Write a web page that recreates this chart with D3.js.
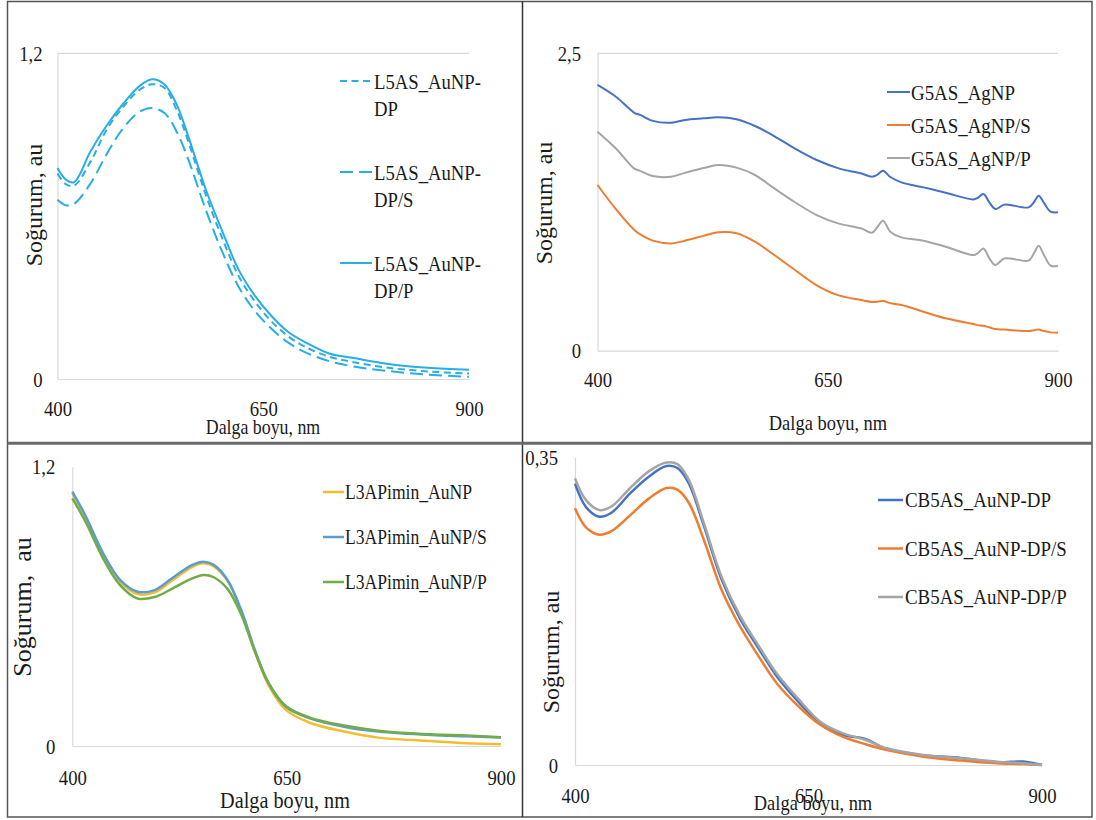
<!DOCTYPE html>
<html>
<head>
<meta charset="utf-8">
<script src="https://cdn.jsdelivr.net/npm/d3@7"></script>
</head>
<body style="margin:0;background:#fff">
<div id="main"></div>
<script>
// ---- panel 1 : L5AS_AuNP (0 - 1,2) ----
var l5Wave = [400, 410, 420, 440, 460, 480, 500, 515, 530, 545, 560, 580, 600, 620, 640, 660, 680, 700, 730, 760, 800, 850, 900];
var l5DP   = [0.757, 0.718, 0.712, 0.80, 0.92, 1.003, 1.066, 1.086, 1.072, 0.99, 0.865, 0.68, 0.52, 0.38, 0.285, 0.212, 0.158, 0.12, 0.082, 0.062, 0.042, 0.028, 0.02];
var l5DPS  = [0.66, 0.64, 0.645, 0.72, 0.83, 0.925, 0.985, 0.998, 0.98, 0.91, 0.80, 0.625, 0.47, 0.34, 0.25, 0.185, 0.135, 0.10, 0.066, 0.046, 0.03, 0.016, 0.008];
var l5DPP  = [0.777, 0.735, 0.725, 0.838, 0.935, 1.015, 1.08, 1.104, 1.085, 1.01, 0.884, 0.70, 0.546, 0.403, 0.306, 0.232, 0.174, 0.137, 0.094, 0.077, 0.056, 0.041, 0.034];
var l5Labels = [["L5AS_AuNP-", "DP"], ["L5AS_AuNP-", "DP/S"], ["L5AS_AuNP-", "DP/P"]];

// ---- panel 2 : G5AS_AgNP (0 - 2,5) ----
var g5Wave = [400, 420, 440, 447, 460, 480, 495, 515, 531, 551, 571, 590, 614, 638, 662, 686, 698, 704, 710, 718, 730, 754, 778, 808, 813, 819, 826, 832, 842, 868, 874, 879, 885, 892, 900];
var g5Ag   = [2.234, 2.135, 2.0, 1.98, 1.932, 1.917, 1.94, 1.953, 1.962, 1.945, 1.889, 1.813, 1.701, 1.603, 1.533, 1.491, 1.463, 1.48, 1.513, 1.46, 1.415, 1.373, 1.328, 1.272, 1.285, 1.317, 1.24, 1.191, 1.228, 1.205, 1.25, 1.303, 1.24, 1.169, 1.163];
var g5AgS  = [1.393, 1.19, 1.015, 0.975, 0.925, 0.902, 0.925, 0.965, 0.995, 0.987, 0.916, 0.815, 0.68, 0.55, 0.465, 0.426, 0.409, 0.412, 0.418, 0.40, 0.384, 0.328, 0.272, 0.224, 0.215, 0.21, 0.195, 0.182, 0.178, 0.165, 0.172, 0.179, 0.165, 0.154, 0.151];
var g5AgP  = [1.841, 1.70, 1.53, 1.51, 1.468, 1.463, 1.495, 1.535, 1.561, 1.539, 1.477, 1.375, 1.25, 1.14, 1.068, 1.029, 0.992, 1.04, 1.093, 1.0, 0.953, 0.925, 0.874, 0.804, 0.82, 0.86, 0.77, 0.72, 0.776, 0.757, 0.82, 0.883, 0.80, 0.715, 0.712];
var g5Labels = [["G5AS_AgNP"], ["G5AS_AgNP/S"], ["G5AS_AgNP/P"]];

// ---- panel 3 : L3APimin_AuNP (0 - 1,2) ----
var l3Wave = [400, 416, 436, 456, 476, 496, 516, 540, 553, 565, 581, 597, 613, 629, 649, 677, 717, 757, 818, 860, 900];
var l3Au   = [1.085, 0.978, 0.82, 0.705, 0.653, 0.66, 0.71, 0.77, 0.785, 0.772, 0.71, 0.58, 0.405, 0.26, 0.155, 0.10, 0.062, 0.036, 0.021, 0.012, 0.007];
var l3AuS  = [1.093, 0.985, 0.828, 0.713, 0.663, 0.67, 0.72, 0.778, 0.792, 0.778, 0.713, 0.584, 0.412, 0.269, 0.169, 0.119, 0.083, 0.062, 0.047, 0.042, 0.037];
var l3AuP  = [1.064, 0.96, 0.805, 0.69, 0.634, 0.64, 0.675, 0.72, 0.735, 0.725, 0.675, 0.565, 0.405, 0.27, 0.172, 0.122, 0.088, 0.066, 0.05, 0.045, 0.038];
var l3Labels = [["L3APimin_AuNP"], ["L3APimin_AuNP/S"], ["L3APimin_AuNP/P"]];

// ---- panel 4 : CB5AS_AuNP (0 - 0,35) ----
var cbWave = [400, 412, 426, 439, 459, 479, 498, 510, 522, 538, 557, 577, 597, 616, 640, 663, 687, 710, 734, 773, 813, 852, 880, 900];
var cbDP   = [0.320, 0.293, 0.2825, 0.287, 0.309, 0.328, 0.340, 0.3375, 0.320, 0.272, 0.211, 0.166, 0.132, 0.101, 0.071, 0.047, 0.034, 0.030, 0.018, 0.011, 0.008, 0.003, 0.004, 0];
var cbDPS  = [0.292, 0.270, 0.262, 0.266, 0.284, 0.303, 0.315, 0.313, 0.298, 0.256, 0.199, 0.157, 0.123, 0.093, 0.066, 0.0455, 0.032, 0.024, 0.017, 0.0095, 0.005, 0.002, 0.001, 0];
var cbDPP  = [0.326, 0.301, 0.290, 0.294, 0.315, 0.334, 0.344, 0.342, 0.324, 0.275, 0.214, 0.169, 0.135, 0.104, 0.074, 0.049, 0.036, 0.029, 0.019, 0.0114, 0.0076, 0.0038, 0.002, 0];
var cbLabels = [["CB5AS_AuNP-DP"], ["CB5AS_AuNP-DP/S"], ["CB5AS_AuNP-DP/P"]];

var xTicks = [400, 650, 900];
var xTitle = "Dalga boyu, nm";
var yTitle = "Soğurum, au";

var FONT = "'Liberation Serif', 'Times New Roman', serif";
var fmt = function(d) { return String(d).replace(".", ","); };//comma decimals

var panels = [
  { wave: l5Wave, series: [l5DP, l5DPS, l5DPP], labels: l5Labels, yMax: 1.2,
    colors: ["#29ADE2", "#29ADE2", "#29ADE2"], dashes: ["7,4.5", "13,6", null], lw: 2,
    x0: 57.5, x1: 469, y0: 379, y1: 53.3, topGrid: true, tickOff: 29, yPad: 15, tickSize: 22, tickSx: 0.85,
    xt: [263, 427, 21, 0.85], yt: [34, 205, 24, yTitle],
    leg: { x0: 340, x1: 372, tx: 374, y: 81, step: 91, line2: 27, size: 22, sx: 0.85 } },
  { wave: g5Wave, series: [g5Ag, g5AgS, g5AgP], labels: g5Labels, yMax: 2.5,
    colors: ["#4472C4", "#ED7D31", "#A5A5A5"], dashes: [null, null, null], lw: 2,
    x0: 597.5, x1: 1058, y0: 350.7, y1: 53.3, topGrid: true, tickOff: 29, yPad: 16.5, tickSize: 22, tickSx: 0.85,
    xt: [828, 422, 22, 0.84], yt: [544, 203, 24, yTitle],
    leg: { x0: 887, x1: 910, tx: 911, y: 92, step: 33, line2: 0, size: 22, sx: 0.86 } },
  { wave: l3Wave, series: [l3Au, l3AuS, l3AuP], labels: l3Labels, yMax: 1.2,
    colors: ["#F2BE2C", "#5B9BD5", "#70AD47"], dashes: [null, null, null], lw: 2.5,
    x0: 72.3, x1: 501, y0: 746, y1: 466.7, topGrid: false, tickOff: 31, yPad: 17, tickSize: 22, tickSx: 0.85,
    xt: [285, 800, 23, 0.88], yt: [22, 607, 26, "Soğurum,  au"],
    leg: { x0: 323, x1: 344, tx: 345, y: 492, step: 45, line2: 0, size: 20, sx: 0.88 } },
  { wave: cbWave, series: [cbDP, cbDPS, cbDPP], labels: cbLabels, yMax: 0.35,
    colors: ["#4472C4", "#ED7D31", "#A5A5A5"], dashes: [null, null, null], lw: 2.5,
    x0: 575, x1: 1042, y0: 765, y1: 457.3, topGrid: false, tickOff: 30, yPad: 17, tickSize: 22, tickSx: 0.85,
    xt: [813, 802, 22, 0.84], yt: [551, 652, 24, yTitle],
    leg: { x0: 878, x1: 903, tx: 905, y: 500, step: 48.5, line2: 0, size: 21, sx: 0.9 } }
];

var canvas = d3.select("#main").append("svg")
  .attr("width", 1096)
  .attr("height", 820)
  .style("display", "block")
  .style("font-family", FONT);//create canvas
canvas.append("rect").attr("width", 1096).attr("height", 820).attr("fill", "#fff");

// horizontally squeezed text, scaled round its own anchor
function squeeze(sel, sx) {
  sel.attr("transform", function() {
    var x = +d3.select(this).attr("x") || 0;
    return "translate(" + x + ",0) scale(" + sx + ",1) translate(" + (-x) + ",0)";
  });
}

panels.forEach(function(p) {
  var x = d3.scaleLinear().domain([400, 900]).range([p.x0, p.x1]);
  var y = d3.scaleLinear().domain([0, p.yMax]).range([p.y0, p.y1]);
  var g = canvas.append("g");

  if (p.topGrid) {
    g.append("line")
      .attr("x1", x(400)).attr("x2", x(900))
      .attr("y1", y(p.yMax)).attr("y2", y(p.yMax))
      .attr("stroke", "#d9d9d9").attr("stroke-width", 1.2);
  }//top gridline

  var xAxis = g.append("g")
    .attr("transform", "translate(0," + y(0) + ")")
    .call(d3.axisBottom(x).tickValues(xTicks).tickSize(0).tickFormat(d3.format("d")));
  xAxis.attr("font-family", null).attr("font-size", null);
  xAxis.select(".domain").attr("stroke", "#d9d9d9").attr("stroke-width", 1.2);
  xAxis.selectAll("text")
    .attr("y", p.tickOff).attr("dy", "0.35em")
    .style("font-family", FONT).style("font-size", p.tickSize + "px").attr("fill", "#1a1a1a")
    .call(squeeze, p.tickSx);//x-axis

  var yAxis = g.append("g")
    .attr("transform", "translate(" + x(400) + ",0)")
    .call(d3.axisLeft(y).tickValues([0, p.yMax]).tickSize(0).tickPadding(p.yPad).tickFormat(fmt));
  yAxis.attr("font-family", null).attr("font-size", null);
  yAxis.select(".domain").attr("stroke", "#d9d9d9").attr("stroke-width", 1.2);
  yAxis.selectAll("text")
    .style("font-family", FONT).style("font-size", p.tickSize + "px").attr("fill", "#1a1a1a")
    .call(squeeze, p.tickSx);//y-axis
  g.selectAll(".tick line").remove();

  var line = d3.line()
    .x(function(d) { return x(d[0]); })
    .y(function(d) { return y(d[1]); })
    .curve(d3.curveCatmullRom.alpha(0.5));
  p.series.forEach(function(s, i) {
    g.append("path")
      .datum(d3.zip(p.wave, s))
      .attr("d", line)
      .attr("fill", "none")
      .attr("stroke", p.colors[i])
      .attr("stroke-width", p.lw)
      .attr("stroke-dasharray", p.dashes[i])
      .attr("stroke-linejoin", "round");
  });//curves

  var L = p.leg;
  p.labels.forEach(function(lab, i) {
    var ly = L.y + i * L.step;
    g.append("line")
      .attr("x1", L.x0).attr("x2", L.x1).attr("y1", ly).attr("y2", ly)
      .attr("stroke", p.colors[i]).attr("stroke-width", p.lw)
      .attr("stroke-dasharray", p.dashes[i]);
    lab.forEach(function(t, j) {
      g.append("text")
        .attr("x", L.tx).attr("y", ly + j * L.line2)
        .attr("dy", "0.35em")
        .attr("fill", "#1a1a1a")
        .style("font-family", FONT)
        .style("font-size", L.size + "px")
        .text(t)
        .call(squeeze, L.sx);
    });
  });//legend

  g.append("text")
    .attr("x", p.xt[0]).attr("y", p.xt[1])
    .attr("dy", "0.35em")
    .attr("text-anchor", "middle")
    .attr("fill", "#1a1a1a")
    .style("font-family", FONT)
    .style("font-size", p.xt[2] + "px")
    .text(xTitle)
    .call(squeeze, p.xt[3]);//x title

  g.append("text")
    .attr("transform", "translate(" + p.yt[0] + "," + p.yt[1] + ") rotate(-90)")
    .attr("dy", "0.35em")
    .attr("text-anchor", "middle")
    .attr("fill", "#1a1a1a")
    .style("font-family", FONT)
    .style("font-size", p.yt[2] + "px")
    .style("white-space", "pre")
    .text(p.yt[3]);//y title
});

// frame round the four panels
canvas.append("rect")
  .attr("x", 7.5).attr("y", 1.5).attr("width", 1084.5).attr("height", 815.5)
  .attr("fill", "none").attr("stroke", "#555").attr("stroke-width", 1.5);
canvas.append("line")
  .attr("x1", 522.5).attr("x2", 522.5).attr("y1", 1.5).attr("y2", 817)
  .attr("stroke", "#333").attr("stroke-width", 1.5);
canvas.append("line")
  .attr("x1", 7.5).attr("x2", 1092).attr("y1", 443.3).attr("y2", 443.3)
  .attr("stroke", "#6a6a6a").attr("stroke-width", 3);
</script>
</body>
</html>
